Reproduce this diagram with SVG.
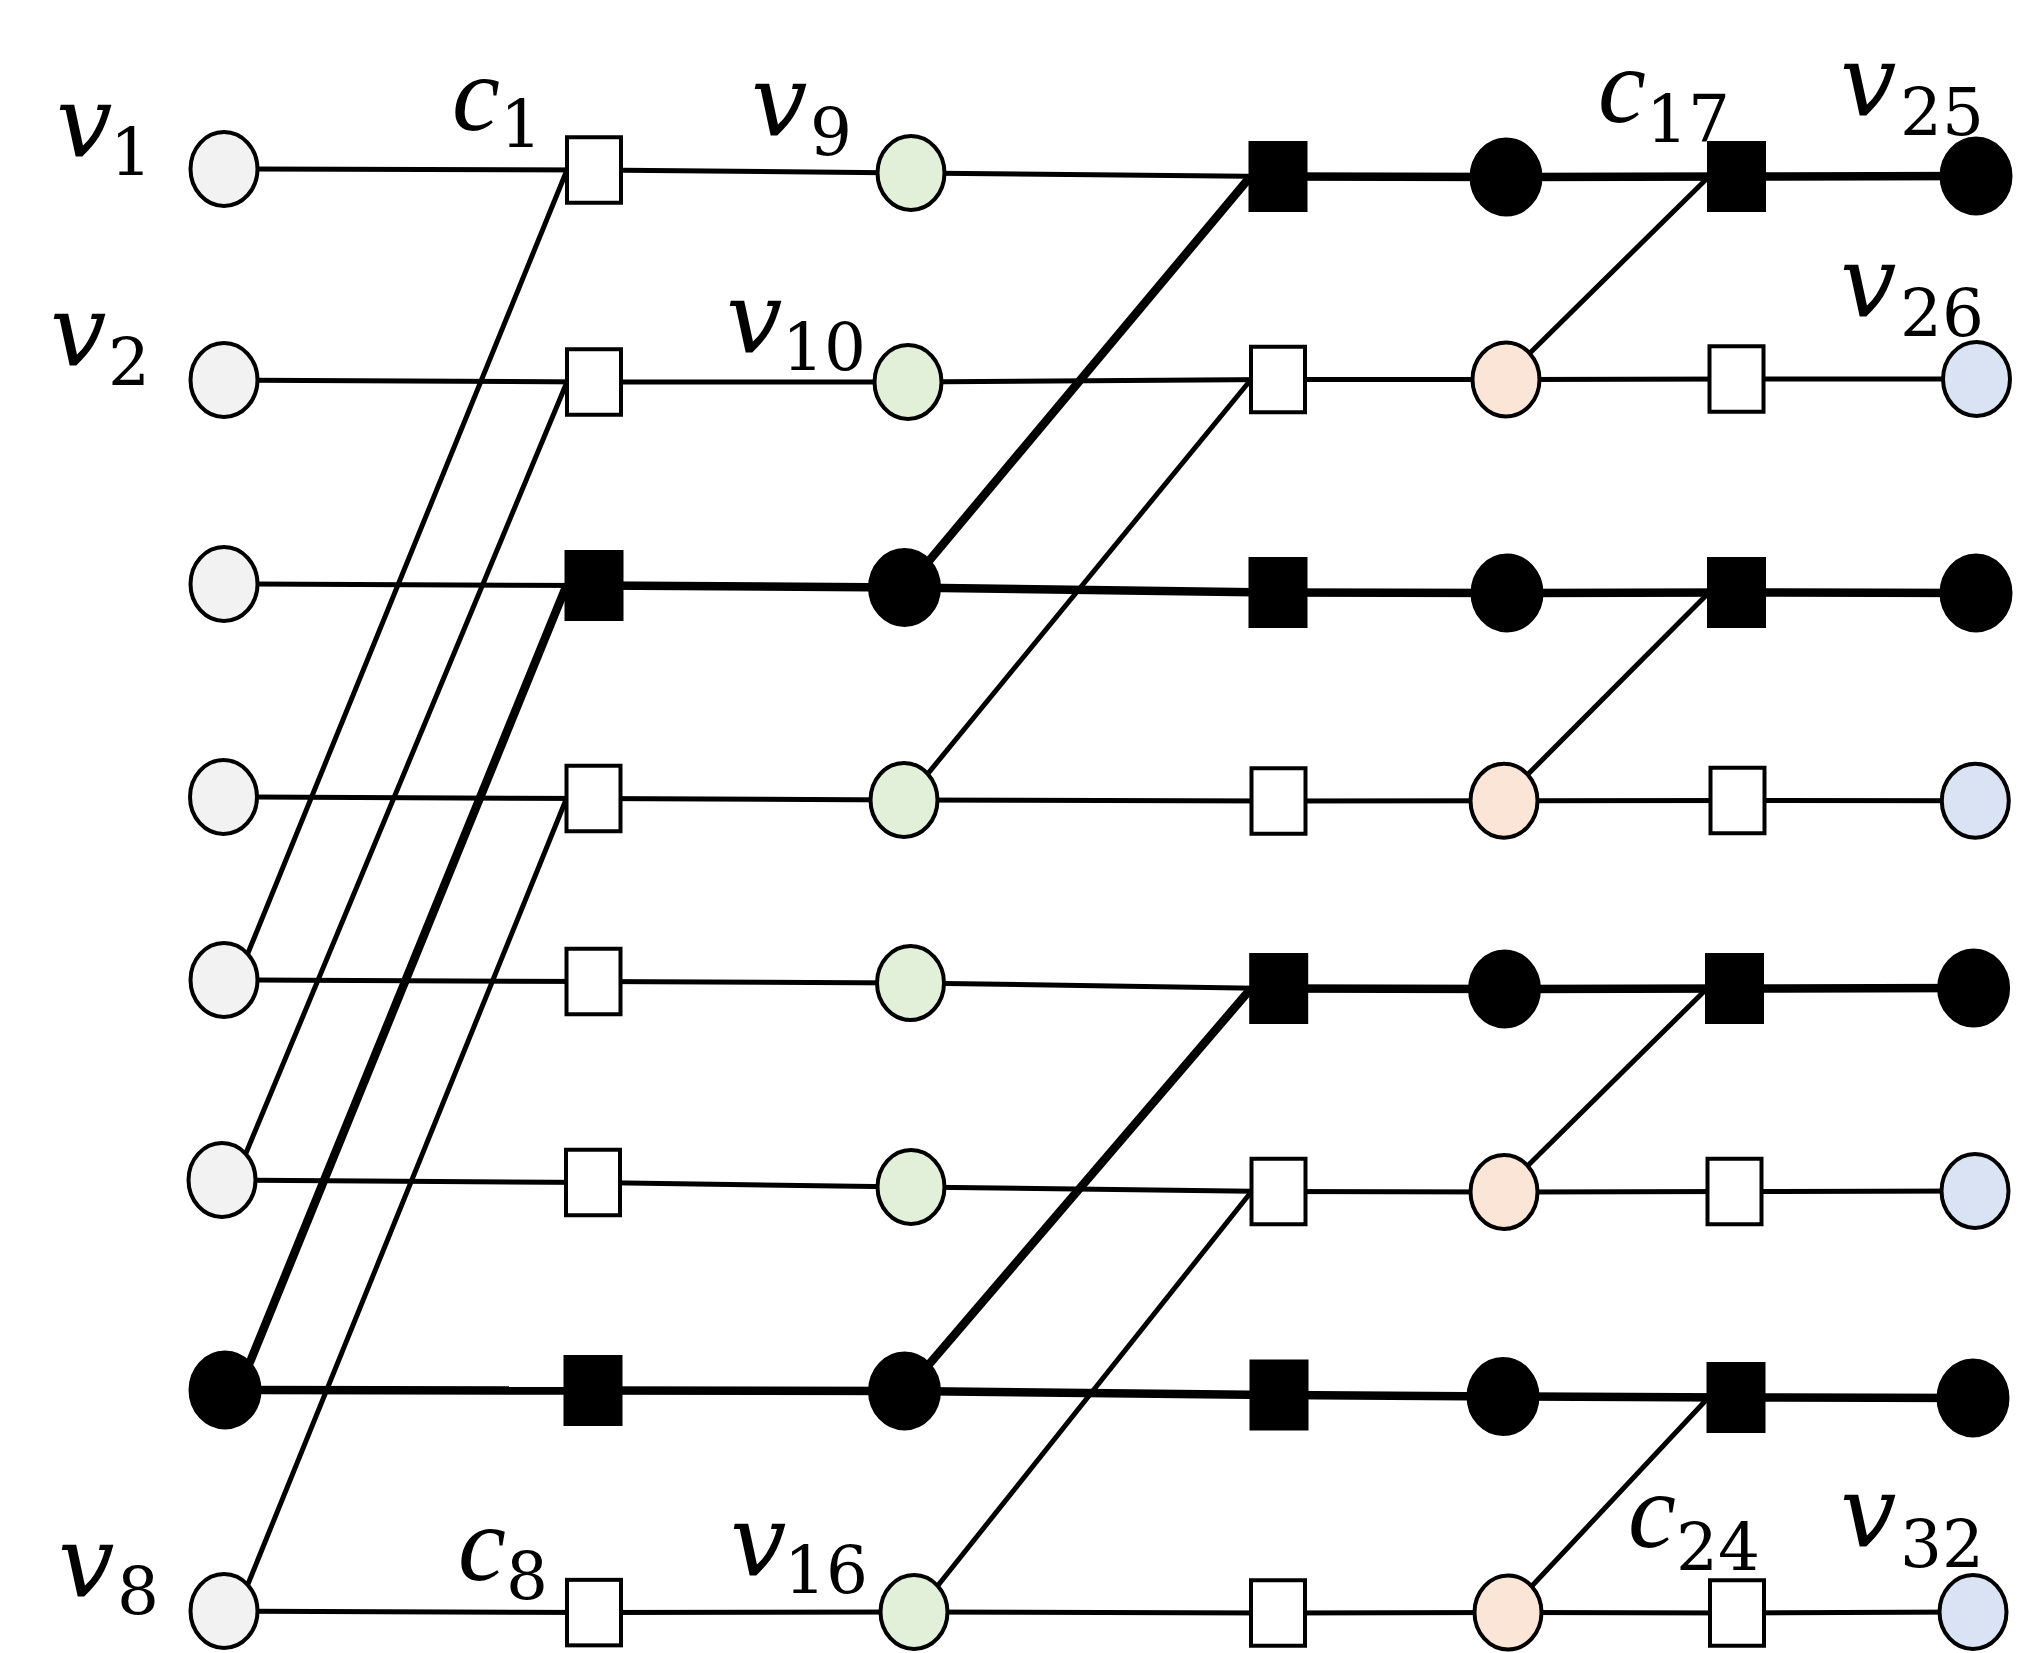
<svg xmlns="http://www.w3.org/2000/svg" width="2021" height="1653" viewBox="0 0 2021 1653">
<style>
.bg{fill:#ffffff}
.n{stroke:#000;stroke-width:4}
.g{fill:#F2F2F2}.gr{fill:#E2F0D9}.pe{fill:#FBE5D6}.bl{fill:#DAE3F3}.w{fill:#ffffff}.k{fill:#000}
.thin{stroke:#000;stroke-width:5;fill:none}
.thick{stroke:#000;stroke-width:8.5;fill:none}
.lbl{font-family:"DejaVu Serif","Liberation Serif",serif;font-size:100px;font-style:italic;fill:#000}
.lc{font-family:"Liberation Serif","Times New Roman",serif;font-size:108px;font-style:italic;fill:#000}
.sub{font-family:"DejaVu Serif","Liberation Serif",serif;font-size:66px;font-style:normal}
</style>
<rect class="bg" x="0" y="0" width="2021" height="1653"/>
<g id="connectors">
<!-- row 1 -->
<line class="thin" x1="224" y1="169" x2="594" y2="170"/>
<line class="thin" x1="594" y1="170" x2="911" y2="173"/>
<line class="thin" x1="911" y1="173" x2="1278" y2="176.5"/>
<line class="thick" x1="1278" y1="176.5" x2="1506" y2="177"/>
<line class="thick" x1="1506" y1="177" x2="1736.5" y2="176.5"/>
<line class="thick" x1="1736.5" y1="176.5" x2="1976" y2="176"/>
<!-- row 2 -->
<line class="thin" x1="224" y1="380" x2="594" y2="382"/>
<line class="thin" x1="594" y1="382" x2="908" y2="382"/>
<line class="thin" x1="908" y1="382" x2="1278" y2="379.5"/>
<line class="thin" x1="1278" y1="379.5" x2="1506" y2="379.5"/>
<line class="thin" x1="1506" y1="379.5" x2="1736.5" y2="379"/>
<line class="thin" x1="1736.5" y1="379" x2="1976.5" y2="379"/>
<!-- row 3 -->
<line class="thin" x1="224" y1="584" x2="594" y2="585.5"/>
<line class="thick" x1="594" y1="585.5" x2="904.5" y2="587.5"/>
<line class="thick" x1="904.5" y1="587.5" x2="1278" y2="592.5"/>
<line class="thick" x1="1278" y1="592.5" x2="1507" y2="593"/>
<line class="thick" x1="1507" y1="593" x2="1736.5" y2="592.5"/>
<line class="thick" x1="1736.5" y1="592.5" x2="1976" y2="593"/>
<!-- row 4 -->
<line class="thin" x1="223.5" y1="797" x2="593.5" y2="798.5"/>
<line class="thin" x1="593.5" y1="798.5" x2="904" y2="800"/>
<line class="thin" x1="904" y1="800" x2="1278.5" y2="801"/>
<line class="thin" x1="1278.5" y1="801" x2="1504" y2="800.7"/>
<line class="thin" x1="1504" y1="800.7" x2="1737.5" y2="800.5"/>
<line class="thin" x1="1737.5" y1="800.5" x2="1975.3" y2="800.7"/>
<!-- row 5 -->
<line class="thin" x1="224" y1="980" x2="593.5" y2="981.5"/>
<line class="thin" x1="593.5" y1="981.5" x2="910.5" y2="983"/>
<line class="thin" x1="910.5" y1="983" x2="1278.7" y2="988.5"/>
<line class="thick" x1="1278.7" y1="988.5" x2="1504.5" y2="989"/>
<line class="thick" x1="1504.5" y1="989" x2="1734.5" y2="988.5"/>
<line class="thick" x1="1734.5" y1="988.5" x2="1973.6" y2="988"/>
<!-- row 6 -->
<line class="thin" x1="222" y1="1180" x2="593" y2="1182.5"/>
<line class="thin" x1="593" y1="1182.5" x2="911" y2="1187"/>
<line class="thin" x1="911" y1="1187" x2="1278.5" y2="1191.5"/>
<line class="thin" x1="1278.5" y1="1191.5" x2="1504" y2="1192"/>
<line class="thin" x1="1504" y1="1192" x2="1734.5" y2="1191.5"/>
<line class="thin" x1="1734.5" y1="1191.5" x2="1975" y2="1191"/>
<!-- row 7 -->
<line class="thick" x1="225" y1="1390" x2="593" y2="1390.5"/>
<line class="thick" x1="593" y1="1390.5" x2="904.5" y2="1391"/>
<line class="thick" x1="904.5" y1="1391" x2="1279" y2="1395"/>
<line class="thick" x1="1279" y1="1395" x2="1503" y2="1396.5"/>
<line class="thick" x1="1503" y1="1396.5" x2="1736" y2="1397.5"/>
<line class="thick" x1="1736" y1="1397.5" x2="1973" y2="1398"/>
<!-- row 8 -->
<line class="thin" x1="224" y1="1611" x2="594" y2="1612.6"/>
<line class="thin" x1="594" y1="1612.6" x2="914" y2="1612"/>
<line class="thin" x1="914" y1="1612" x2="1278" y2="1613"/>
<line class="thin" x1="1278" y1="1613" x2="1508" y2="1612.5"/>
<line class="thin" x1="1508" y1="1612.5" x2="1737" y2="1613"/>
<line class="thin" x1="1737" y1="1613" x2="1973" y2="1612"/>
<!-- diagonals, left -->
<line class="thin" x1="247.7" y1="953.8" x2="567" y2="170"/>
<line class="thin" x1="245.7" y1="1153.8" x2="567" y2="382"/>
<line class="thick" x1="249.4" y1="1363.5" x2="566.5" y2="585.5"/>
<line class="thin" x1="247.7" y1="1584.8" x2="566.5" y2="798.5"/>
<!-- diagonals, middle -->
<line class="thick" x1="928.9" y1="561" x2="1250.5" y2="176.5"/>
<line class="thin" x1="927.7" y1="773.8" x2="1251" y2="379.5"/>
<line class="thick" x1="928.9" y1="1364.5" x2="1251" y2="988.5"/>
<line class="thin" x1="937.7" y1="1585.8" x2="1251.5" y2="1191.5"/>
<!-- diagonals, right -->
<line class="thin" x1="1529.7" y1="353.3" x2="1709" y2="176.5"/>
<line class="thin" x1="1527.7" y1="774.5" x2="1709" y2="592.5"/>
<line class="thin" x1="1527.7" y1="1165.8" x2="1707" y2="988.5"/>
<line class="thin" x1="1531.7" y1="1586.3" x2="1708.5" y2="1397.5"/>
</g>
<!-- column 1 -->
<g id="v1"><ellipse class="n g" cx="224" cy="169" rx="33.5" ry="37"/><text class="lbl" x="56" y="156">v<tspan class="sub" x="110" y="175">1</tspan></text></g>
<g id="v2"><ellipse class="n g" cx="224" cy="380" rx="33.5" ry="37"/><text class="lbl" x="50" y="365">v<tspan class="sub" x="108" y="385">2</tspan></text></g>
<g id="v3"><ellipse class="n g" cx="224" cy="584" rx="33.5" ry="37"/></g>
<g id="v4"><ellipse class="n g" cx="223.5" cy="797" rx="33.5" ry="37"/></g>
<g id="v5"><ellipse class="n g" cx="224" cy="980" rx="33.5" ry="37"/></g>
<g id="v6"><ellipse class="n g" cx="222" cy="1180" rx="33.5" ry="37"/></g>
<g id="v7"><ellipse class="n k" cx="225" cy="1390" rx="34.5" ry="37.5"/></g>
<g id="v8"><ellipse class="n g" cx="224" cy="1611" rx="33.5" ry="37"/><text class="lbl" x="58" y="1596">v<tspan class="sub" x="117" y="1614">8</tspan></text></g>
<!-- column 2 -->
<g id="c1"><rect class="n w" x="567" y="137.25" width="54" height="65.5"/><text class="lc" x="452" y="130">c<tspan class="sub" x="500" y="147">1</tspan></text></g>
<g id="c2"><rect class="n w" x="567" y="349.25" width="54" height="65.5"/></g>
<g id="c3"><rect class="n k" x="566.5" y="552" width="55" height="67"/></g>
<g id="c4"><rect class="n w" x="566.5" y="765.75" width="54" height="65.5"/></g>
<g id="c5"><rect class="n w" x="566.5" y="948.75" width="54" height="65.5"/></g>
<g id="c6"><rect class="n w" x="566" y="1149.75" width="54" height="65.5"/></g>
<g id="c7"><rect class="n k" x="565.5" y="1357" width="55" height="67"/></g>
<g id="c8"><rect class="n w" x="567" y="1579.85" width="54" height="65.5"/><text class="lc" x="458" y="1580">c<tspan class="sub" x="506" y="1599">8</tspan></text></g>
<!-- column 3 -->
<g id="v9"><ellipse class="n gr" cx="911" cy="173" rx="33.5" ry="37"/><text class="lbl" x="751" y="135">v<tspan class="sub" x="810" y="155">9</tspan></text></g>
<g id="v10"><ellipse class="n gr" cx="908" cy="382" rx="33.5" ry="37"/><text class="lbl" x="726" y="352">v<tspan class="sub" x="782" y="370">10</tspan></text></g>
<g id="v11"><ellipse class="n k" cx="904.5" cy="587.5" rx="34.5" ry="37.5"/></g>
<g id="v12"><ellipse class="n gr" cx="904" cy="800" rx="33.5" ry="37"/></g>
<g id="v13"><ellipse class="n gr" cx="910.5" cy="983" rx="33.5" ry="37"/></g>
<g id="v14"><ellipse class="n gr" cx="911" cy="1187" rx="33.5" ry="37"/></g>
<g id="v15"><ellipse class="n k" cx="904.5" cy="1391" rx="34.5" ry="37.5"/></g>
<g id="v16"><ellipse class="n gr" cx="914" cy="1612" rx="33.5" ry="37"/><text class="lbl" x="730" y="1575">v<tspan class="sub" x="784" y="1593">16</tspan></text></g>
<!-- column 4 -->
<g id="c9"><rect class="n k" x="1250.5" y="143" width="55" height="67"/></g>
<g id="c10"><rect class="n w" x="1251" y="346.75" width="54" height="65.5"/></g>
<g id="c11"><rect class="n k" x="1250.5" y="559" width="55" height="67"/></g>
<g id="c12"><rect class="n w" x="1251.5" y="768.25" width="54" height="65.5"/></g>
<g id="c13"><rect class="n k" x="1251.2" y="955" width="55" height="67"/></g>
<g id="c14"><rect class="n w" x="1251.5" y="1158.75" width="54" height="65.5"/></g>
<g id="c15"><rect class="n k" x="1251.5" y="1361.5" width="55" height="67"/></g>
<g id="c16"><rect class="n w" x="1251" y="1580.25" width="54" height="65.5"/></g>
<!-- column 5 -->
<g id="v17"><ellipse class="n k" cx="1506" cy="177" rx="34.5" ry="37.5"/></g>
<g id="v18"><ellipse class="n pe" cx="1506" cy="379.5" rx="33.5" ry="37"/></g>
<g id="v19"><ellipse class="n k" cx="1507" cy="593" rx="34.5" ry="37.5"/></g>
<g id="v20"><ellipse class="n pe" cx="1504" cy="800.7" rx="33.5" ry="37"/></g>
<g id="v21"><ellipse class="n k" cx="1504.5" cy="989" rx="34.5" ry="37.5"/></g>
<g id="v22"><ellipse class="n pe" cx="1504" cy="1192" rx="33.5" ry="37"/></g>
<g id="v23"><ellipse class="n k" cx="1503" cy="1396.5" rx="34.5" ry="37.5"/></g>
<g id="v24"><ellipse class="n pe" cx="1508" cy="1612.5" rx="33.5" ry="37"/></g>
<!-- column 6 -->
<g id="c17"><rect class="n k" x="1709" y="143" width="55" height="67"/><text class="lc" x="1598" y="122">c<tspan class="sub" x="1646" y="142">17</tspan></text></g>
<g id="c18"><rect class="n w" x="1709.5" y="346.25" width="54" height="65.5"/></g>
<g id="c19"><rect class="n k" x="1709" y="559" width="55" height="67"/></g>
<g id="c20"><rect class="n w" x="1710.5" y="767.75" width="54" height="65.5"/></g>
<g id="c21"><rect class="n k" x="1707" y="955" width="55" height="67"/></g>
<g id="c22"><rect class="n w" x="1707.5" y="1158.75" width="54" height="65.5"/></g>
<g id="c23"><rect class="n k" x="1708.5" y="1364" width="55" height="67"/></g>
<g id="c24"><rect class="n w" x="1710" y="1580.25" width="54" height="65.5"/><text class="lc" x="1628" y="1547">c<tspan class="sub" x="1676" y="1570">24</tspan></text></g>
<!-- column 7 -->
<g id="v25"><ellipse class="n k" cx="1976" cy="176" rx="34.5" ry="37.5"/><text class="lbl" x="1840" y="115">v<tspan class="sub" x="1900" y="135">25</tspan></text></g>
<g id="v26"><ellipse class="n bl" cx="1976.5" cy="379" rx="33.5" ry="37"/><text class="lbl" x="1840" y="316">v<tspan class="sub" x="1900" y="336">26</tspan></text></g>
<g id="v27"><ellipse class="n k" cx="1976" cy="593" rx="34.5" ry="37.5"/></g>
<g id="v28"><ellipse class="n bl" cx="1975.3" cy="800.7" rx="33.5" ry="37"/></g>
<g id="v29"><ellipse class="n k" cx="1973.6" cy="988" rx="34.5" ry="37.5"/></g>
<g id="v30"><ellipse class="n bl" cx="1975" cy="1191" rx="33.5" ry="37"/></g>
<g id="v31"><ellipse class="n k" cx="1973" cy="1398" rx="34.5" ry="37.5"/></g>
<g id="v32"><ellipse class="n bl" cx="1973" cy="1612" rx="33.5" ry="37"/><text class="lbl" x="1840" y="1546">v<tspan class="sub" x="1900" y="1567">32</tspan></text></g>
</svg>
